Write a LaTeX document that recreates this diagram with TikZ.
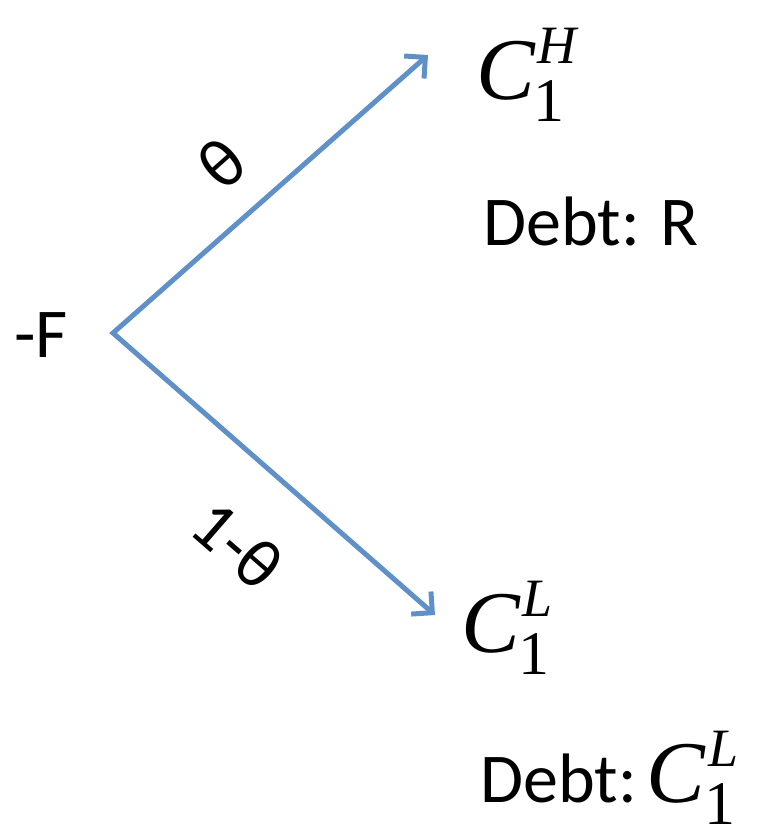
\documentclass[tikz,border=0pt]{standalone}
\usepackage{fontspec}
\setmainfont{Carlito}
\newfontfamily\tms{Liberation Serif}
\usetikzlibrary{arrows.meta}
\definecolor{arrblue}{RGB}{95,145,200}
\newcommand\Cvar[1]{{\tms\fontsize{88}{88}\selectfont\textit{C}}\kern-2pt\rlap{\raisebox{-22pt}{\tms\fontsize{62}{62}\selectfont 1}}\kern4pt\raisebox{36pt}{\tms\fontsize{54}{54}\selectfont\textit{#1}}}
\begin{document}
\begin{tikzpicture}[x=1pt,y=-1pt,
  txt/.style={inner sep=0pt, font=\fontsize{70}{70}\selectfont},
  arr/.style={draw=arrblue, line width=5pt, line join=miter,
    {Straight Barb[length=15pt,width=30pt]}-{Straight Barb[length=15pt,width=30pt]}}]
\useasboundingbox (0,0) rectangle (765,837);
\node[txt, anchor=base west] (F) at (14,357) {-F};
\coordinate (o) at (113,333);
\coordinate (th) at (428,55);
\coordinate (tl) at (435,615);
\draw[arr] (th) -- (o) -- (tl);
\node[txt, rotate=41.6] (lth) at (222,163) {θ};
\node[txt, rotate=-41] (ltl) at (238,545) {1-θ};
\node[inner sep=0pt, anchor=base west] (CH) at (476,100) {\Cvar{H}};
\node[txt, anchor=base west] (DR) at (483,245) {Debt: R};
\node[inner sep=0pt, anchor=base west] (CL) at (461,652) {\Cvar{L}};
\node[txt, anchor=base west] (DC) at (480,802) {Debt:\kern10pt\Cvar{L}};
\end{tikzpicture}
\end{document}
